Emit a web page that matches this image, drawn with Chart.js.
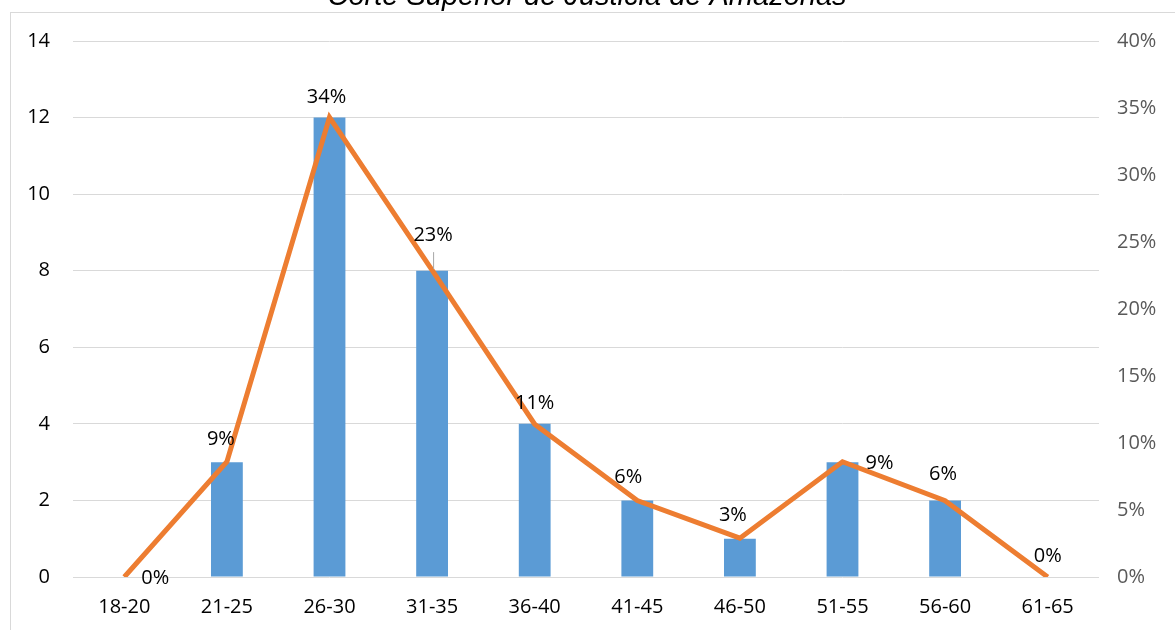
<!DOCTYPE html>
<html>
<head>
<meta charset="utf-8">
<script src="https://cdn.jsdelivr.net/npm/chart.js@4.4.1/dist/chart.umd.min.js"></script>
<style>
  html, body { margin: 0; padding: 0; background: #fff; overflow: hidden; }
  #wrap { position: absolute; left: 0; top: 0; width: 1175px; height: 630px; }
</style>
</head>
<body>
<div id="wrap"><canvas id="chart"></canvas></div>
<script>
const categories = ['18-20', '21-25', '26-30', '31-35', '36-40', '41-45', '46-50', '51-55', '56-60', '61-65'];
const counts = [0, 3, 12, 8, 4, 2, 1, 3, 2, 0];
const shares = [0, 8.6, 34.3, 22.9, 11.4, 5.7, 2.9, 8.6, 5.7, 0];
const chartTitle = 'Corte Superior de Justicia de Amazonas';

// where each percent label sits relative to its point (dx, dy)
const labelOffsets = [[31, 1], [-6, -22], [-3, -20], [1, -35], [0, -21], [-9, -23], [-7, -23], [37, 2], [-2, -26], [0, -21]];

const frameAndTitle = {
    id: 'frameAndTitle',
    beforeDraw(chart) {
        const ctx = chart.ctx;
        ctx.save();
        ctx.strokeStyle = '#d9d9d9';
        ctx.lineWidth = 1;
        ctx.strokeRect(10.5, 12.5, 1400, 800);
        ctx.fillStyle = '#000';
        ctx.font = 'italic 29px "Liberation Sans", Arial, sans-serif';
        ctx.textAlign = 'center';
        ctx.textBaseline = 'alphabetic';
        ctx.fillText(chartTitle, 587, 5);
        ctx.restore();
    },
    afterDraw(chart) {
        const ctx = chart.ctx;
        const meta = chart.getDatasetMeta(1);
        ctx.save();
        ctx.font = '20px "Open Sans", sans-serif';
        ctx.fillStyle = '#000';
        ctx.textAlign = 'center';
        ctx.textBaseline = 'middle';
        meta.data.forEach((pt, i) => {
            const [dx, dy] = labelOffsets[i];
            ctx.fillText(Math.round(shares[i]) + '%', pt.x + dx, pt.y + dy);
            if (dy < -30) {
                // leader line
                ctx.strokeStyle = '#a6a6a6';
                ctx.lineWidth = 1;
                ctx.beginPath();
                ctx.moveTo(pt.x + dx + 0.5, pt.y + dy + 17);
                ctx.lineTo(pt.x + dx + 0.5, pt.y - 1);
                ctx.stroke();
            }
        });
        ctx.restore();
    }
};

const ctx = document.getElementById('chart').getContext('2d');
new Chart(ctx, {
    type: 'bar',
    data: {
        labels: categories,
        datasets: [
            {
                type: 'bar',
                label: 'Cantidad',
                data: counts,
                backgroundColor: '#5b9bd5',
                yAxisID: 'y',
                barPercentage: 0.31,
                categoryPercentage: 1,
                order: 2
            },
            {
                type: 'line',
                label: 'Porcentaje',
                data: shares,
                borderColor: '#ed7d31',
                borderWidth: 5,
                pointRadius: 0,
                tension: 0,
                fill: false,
                yAxisID: 'y1',
                order: 1
            }
        ]
    },
    options: {
        responsive: true,
        maintainAspectRatio: false,
        animation: false,
        layout: {padding: {top: 41, left: 0, right: 0, bottom: 0}},
        plugins: {
            legend: {display: false},
            title: {display: false},
            tooltip: {enabled: false}
        },
        scales: {
            x: {
                offset: true,
                grid: {display: false},
                border: {display: false},
                ticks: {color: '#000', font: {family: 'Open Sans', size: 20}, padding: 10},
                afterFit: (s) => { s.height = 53; }
            },
            y: {
                position: 'left',
                min: 0,
                max: 14,
                ticks: {stepSize: 2, color: '#000', font: {family: 'Open Sans', size: 20}, padding: 23},
                grid: {color: '#d9d9d9', lineWidth: 1, drawTicks: false},
                border: {display: false},
                afterFit: (s) => { s.width = 73; }
            },
            y1: {
                position: 'right',
                min: 0,
                max: 40,
                ticks: {stepSize: 5, color: '#595959', font: {family: 'Open Sans', size: 20}, padding: 18,
                    callback: (v) => v + '%'},
                grid: {display: false, drawTicks: false},
                border: {display: false},
                afterFit: (s) => { s.width = 76; }
            }
        }
    },
    plugins: [frameAndTitle]
});
</script>
</body>
</html>
